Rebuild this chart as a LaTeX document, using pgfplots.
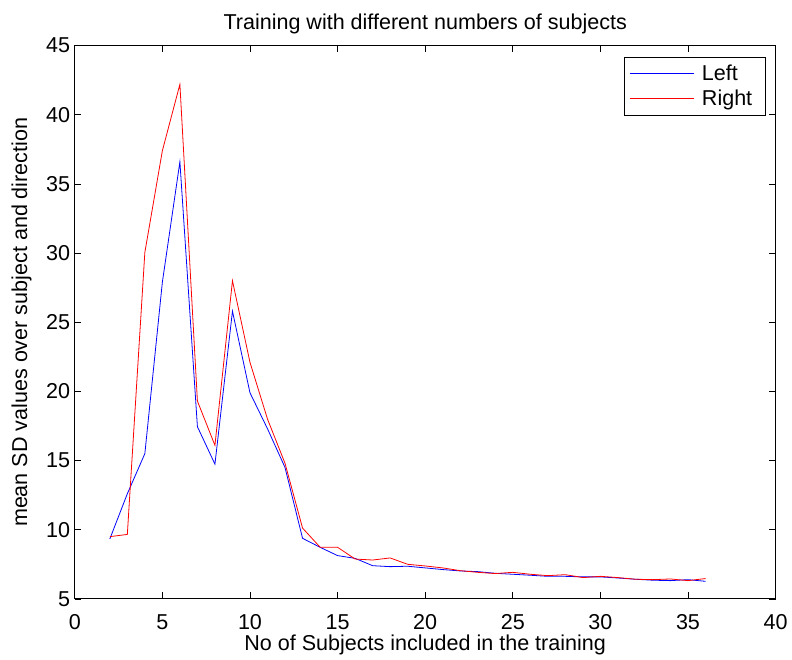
\documentclass[border=0pt]{standalone}
\usepackage{fontspec}
\setmainfont{Liberation Sans}
\usepackage{pgfplots}
\pgfplotsset{compat=1.18}

\pgfplotstableread{
x left right
2 9.33 9.50
3 12.6 9.66
4 15.5 30.05
5 27.9 37.4
6 36.6 42.2
7 17.45 19.3
8 14.74 16.1
9 25.8 28.0
10 19.9 22.1
11 17.3 18.0
12 14.5 14.8
13 9.38 10.12
14 8.73 8.74
15 8.13 8.73
16 7.93 7.88
17 7.40 7.81
18 7.33 7.96
19 7.36 7.50
20 7.24 7.38
21 7.12 7.24
22 7.02 7.04
23 6.97 6.92
24 6.85 6.83
25 6.78 6.92
26 6.71 6.78
27 6.63 6.68
28 6.63 6.75
29 6.59 6.54
30 6.59 6.63
31 6.51 6.54
32 6.42 6.42
33 6.35 6.39
34 6.32 6.44
35 6.39 6.32
36 6.27 6.47
}\sdtable

\begin{document}
\begin{tikzpicture}
\begin{axis}[
    scale only axis,
    width=527.25pt, height=416.25pt,
    xmin=0, xmax=40, ymin=5, ymax=45,
    xtick={0,5,...,40}, ytick={5,10,...,45},
    tick align=inside,
    major tick length=5pt,
    axis line style={line width=0.6pt},
    every tick/.style={black, line width=0.5pt},
    font=\fontsize{16.2}{19}\selectfont,
    tick label style={font=\fontsize{16.2}{19}\selectfont},
    xticklabel style={yshift=-8pt},
    /pgf/number format/assume math mode=true,
    title={Training with different numbers of subjects},
    title style={yshift=-1pt},
    xlabel={No of Subjects included in the training},
    ylabel={mean SD values over subject and direction},
    xlabel style={yshift=3pt},
    ylabel style={yshift=4pt},
    legend style={at={(0.986,0.98)}, anchor=north east,
        font=\fontsize{16.2}{19}\selectfont,
        inner xsep=4pt, inner ysep=4pt, row sep=1.5pt,
        nodes={inner xsep=6pt}},
    legend cell align=left,
    legend image code/.code={\draw[#1] plot coordinates {(0cm,0cm) (1.69cm,0cm)};},
]
\addplot[color=blue, line width=0.6pt] table[x=x, y=left] {\sdtable};
\addlegendentry{Left}
\addplot[color=red, line width=0.6pt] table[x=x, y=right] {\sdtable};
\addlegendentry{Right}
\end{axis}
\useasboundingbox ([xshift=-56.25pt,yshift=-42.2pt]current axis.south west)
    rectangle ([xshift=10.5pt,yshift=34.3pt]current axis.north east);
\end{tikzpicture}
\end{document}
